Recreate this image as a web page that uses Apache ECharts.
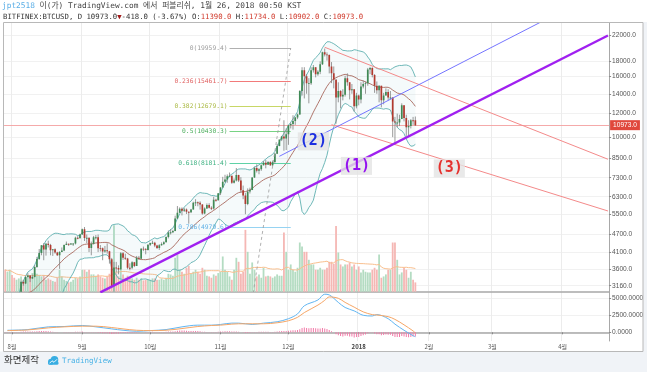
<!DOCTYPE html>
<html><head><meta charset="utf-8">
<script src="https://cdn.jsdelivr.net/npm/echarts@6/dist/echarts.min.js"></script>
<style>html,body{margin:0;padding:0;background:#fff;}#c{width:647px;height:372px;}</style>
</head><body><div id="c"></div>
<script>
// ---------- DATA ----------
// daily candles [open, close, low, high], BITFINEX:BTCUSD
const jul = [[2810,2725,2700,2830],[2725,2757,2680,2780],[2757,2875,2740,2900]];
const aug = [[2875,2718,2650,2930],[2718,2710,2660,2760],[2710,2805,2700,2815],[2805,2895,2780,2900],[2895,3252,2880,3280],[3252,3213,3160,3290],[3213,3378,3200,3400],[3378,3419,3370,3480],[3419,3342,3250,3430],[3342,3381,3330,3440],[3381,3650,3370,3700],[3650,3884,3630,3950],[3884,4073,3860,4200],[4073,4325,4000,4330],[4325,4181,3850,4400],[4181,4376,3990,4400],[4376,4331,4250,4480],[4331,4160,4000,4370],[4160,4193,3980,4200],[4193,4087,4050,4220],[4087,4001,3980,4110],[4001,4100,3600,4130],[4100,4151,4100,4250],[4151,4334,4130,4350],[4334,4371,4330,4450],[4371,4352,4300,4380],[4352,4382,4340,4400],[4382,4382,4300,4390],[4382,4579,4350,4620],[4579,4565,4530,4640],[4565,4703,4560,4730]];
const sep = [[4703,4892,4690,4920],[4892,4578,4470,4980],[4578,4582,4400,4700],[4582,4236,4100,4590],[4236,4376,4000,4450],[4376,4598,4350,4650],[4598,4599,4520,4680],[4599,4228,4100,4700],[4228,4226,4120,4330],[4226,4122,3850,4250],[4122,4161,4080,4300],[4161,4130,4050,4390],[4130,3882,3750,4140],[3882,3154,3100,3920],[3154,3637,2975,3800],[3637,3625,3500,3800],[3625,3582,3450,3700],[3582,4065,3580,4100],[4065,3924,3860,4100],[3924,3905,3860,4050],[3905,3631,3590,3920],[3631,3630,3560,3760],[3630,3792,3590,3820],[3792,3682,3650,3800],[3682,3926,3680,3980],[3926,3892,3860,3980],[3892,4209,3890,4230],[4209,4193,4130,4280],[4193,4164,4030,4230],[4164,4338,4150,4360]];
const oct = [[4338,4403,4300,4410],[4403,4409,4380,4480],[4409,4317,4260,4440],[4317,4229,4200,4340],[4229,4328,4170,4360],[4328,4370,4310,4420],[4370,4426,4330,4460],[4426,4611,4420,4630],[4611,4772,4560,4850],[4772,4781,4700,4900],[4781,4827,4750,4870],[4827,5325,4820,5440],[5325,5564,5300,5860],[5564,5739,5560,5800],[5739,5648,5450,5800],[5648,5711,5600,5780],[5711,5603,5510,5750],[5603,5590,5110,5620],[5590,5708,5550,5730],[5708,6011,5700,6060],[6011,6031,5860,6180],[6031,6008,5850,6070],[6008,5930,5700,6080],[5930,5526,5480,5950],[5526,5750,5500,5800],[5750,5904,5730,5980],[5904,5780,5750,5990],[5780,5753,5680,5850],[5753,6153,5700,6300],[6153,6130,6060,6200],[6130,6468,6110,6470]];
const nov = [[6468,6767,6380,6780],[6767,7078,6760,7350],[7078,7207,7030,7470],[7207,7379,7020,7490],[7379,7407,7330,7600],[7407,7022,6960,7420],[7022,7144,6980,7260],[7144,7459,7090,7870],[7459,7143,7060,7470],[7143,6618,6500,7330],[6618,6357,6180,6870],[6357,5950,5500,6480],[5950,6559,5900,6720],[6559,6635,6460,6760],[6635,7315,6630,7330],[7315,7871,7290,7950],[7871,7708,7600,8100],[7708,7790,7500,7860],[7790,8036,7700,8090],[8036,8200,8030,8300],[8200,8071,7850,8380],[8071,8253,8070,8300],[8253,8038,8000,8300],[8038,8253,8000,8340],[8253,8790,8150,8850],[8790,9330,8770,9500],[9330,9818,9320,9800],[9818,10058,9700,10100],[10058,9888,9000,11400],[9888,10233,9050,10700]];
const dec = [[10233,10975,9420,11000],[10975,11074,10700,11200],[11074,11323,10600,11850],[11323,11657,11000,11700],[11657,11916,11500,12000],[11916,14291,11900,14400],[14291,16800,13800,17200],[16800,16050,13500,17200],[16050,15200,14000,16300],[15200,15200,13000,15800],[15200,16800,15000,17200],[16800,17200,16500,17500],[17200,16300,15900,17200],[16300,16600,16100,16800],[16600,17600,16300,18000],[17600,19300,17500,19400],[19300,19000,18700,19891],[19000,18900,18100,19300],[18900,17300,16400,19000],[17300,16400,15200,17900],[16400,15600,14600,17300],[15600,13600,11100,15700],[13600,14300,13100,15300],[14300,13700,12500,14400],[13700,13900,13300,14500],[13900,15800,13700,16100],[15800,15300,14900,16400],[15300,14400,13400,15300],[14400,14500,14000,15100],[14500,12700,12200,14500],[12700,13800,12500,14100]];
const jan = [[13800,13400,12800,13900],[13400,14800,13000,15300],[14800,15100,14600,15500],[15100,15200,14000,15400],[15200,16900,14900,17100],[16900,17100,16300,17250],[17100,16200,15900,17200],[16200,14900,14100,16300],[14900,14400,14000,15400],[14400,14900,13100,14950],[14900,13300,12600,14900],[13300,13800,12900,14100],[13800,14200,13800,14600],[14200,13600,13300,14500],[13600,13600,13400,14300],[13600,11300,10000,13600],[11300,11200,9400,11700],[11200,11200,10800,12000],[11200,11500,10900,11900],[11500,12800,11500,13000],[12800,11600,11300,12800],[11600,10800,10100,11900],[10800,10900,10000,11400],[10900,11400,10700,11500],[11400,11390,11000,11700],[11390,10973,10902,11734]];

// daily volume (thousand BTC)
const volJul = [33,30,33];
const volAug = [25,21,18,20,23,18,21,24,20,28,28,27,25,23,25,18,20,18,16,15,21,33,23,18,16,14,15,18,21,20,23];
const volSep = [33,33,30,33,26,26,24,26,23,21,20,23,27,33,100,28,23,33,26,21,24,21,20,18,21,18,20,17,18,18];
const volOct = [18,20,20,18,18,20,18,21,27,26,24,51,56,33,30,27,36,39,27,30,33,30,27,36,33,24,23,21,26,24,28];
const volNov = [30,53,33,30,23,18,33,51,45,27,30,93,60,27,44,33,23,26,21,36,23,24,23,21,23,26,24,24,89,60];
const volDec = [33,41,33,30,36,74,68,60,60,48,41,41,33,33,36,33,33,36,45,45,42,99,59,41,38,41,41,44,38,41,33];
const volJan = [38,29,33,30,29,29,33,36,33,56,21,23,26,33,33,74,74,48,26,29,36,33,21,30,18,14];

// MACD histogram (daily)
const histJul = [50,50,50];
const histAug = [50,40,30,40,80,100,110,120,110,100,130,160,180,200,190,180,150,120,90,60,30,10,20,40,50,50,40,60,80,80,90];
const histSep = [100,60,40,-20,-40,-20,-30,-80,-100,-130,-140,-150,-170,-260,-200,-190,-180,-120,-110,-100,-120,-110,-90,-80,-50,-40,0,20,30,50];
const histOct = [60,70,60,40,40,40,50,70,100,110,120,170,220,260,260,250,220,190,180,190,190,180,150,90,70,60,40,30,50,50,80];
const histNov = [100,130,150,160,160,120,100,110,80,20,-30,-100,-90,-80,-20,40,60,70,80,90,80,80,60,60,90,130,170,200,180,180];
const histDec = [220,260,290,310,330,450,650,700,650,600,640,640,580,540,560,620,560,480,320,150,0,-300,-420,-560,-620,-520,-520,-600,-620,-760,-700];
const histJan = [-700,-540,-420,-340,-140,-20,-40,-180,-280,-300,-420,-400,-340,-360,-360,-560,-680,-700,-680,-540,-620,-700,-720,-680,-620,-600];

// MACD and signal lines (read at sample dates)
const macdDates = ['2017-07-30','2017-08-08','2017-08-17','2017-08-24','2017-09-01','2017-09-07','2017-09-14','2017-09-19','2017-09-25','2017-10-01','2017-10-08','2017-10-15','2017-10-22','2017-10-28','2017-11-01','2017-11-06','2017-11-09','2017-11-15','2017-11-20','2017-11-26','2017-12-01','2017-12-05','2017-12-08','2017-12-14','2017-12-17','2017-12-19','2017-12-23','2017-12-26','2017-12-30','2018-01-03','2018-01-07','2018-01-09','2018-01-14','2018-01-17','2018-01-21','2018-01-25','2018-01-26'];
const macdVals = [300,400,800,850,1000,800,500,300,150,250,400,800,1050,1050,1150,1350,1350,1150,1350,1550,2000,2700,3900,4750,5600,5500,4400,3650,3150,2500,2400,2600,2000,1200,300,-500,-650];
const signalVals = [250,350,650,800,900,900,700,500,300,250,300,550,850,1000,1050,1200,1250,1250,1250,1400,1700,2200,2900,4000,4700,5200,5000,4400,3700,3000,2600,2550,2300,1900,1100,200,-100];

// Fibonacci retracement
const fibLevels = ['0','0.236','0.382','0.5','0.618','0.786'];
const fibPrices = [19959.4,15461.7,12679.1,10430.3,8181.4,4979.6];
const fibStart = '2017-11-05', fibEnd = '2017-12-02', fibBase = 901.2;

// drawn trend lines [date, price]
const line1 = [['2017-09-09',3000],['2018-04-21',22000]];
const line2 = [['2017-11-27',8620],['2018-04-21',31900]];
const line3a = [['2017-12-17',20080],['2018-04-21',8425]];
const line3b = [['2017-12-20',11014],['2018-04-21',5640]];
const tagTexts = ['(1)','(2)','(3)'];
const tagDates = ['2017-12-31','2017-12-12','2018-02-10'];
const tagPrices = [8000,9680,7850];
const lastPrice = 10973.0;

// axis tick labels
const priceTicks = [22000,18000,16000,14000,12000,10000,8500,7300,6300,5500,4700,4100,3600,3160];
const macdTicks = [0,2500,5000];

// ---------- BUILD ----------
const cats = [];
for (let t = Date.UTC(2017,6,29), k = 0; k < 267; k++, t += 86400000) cats.push(new Date(t).toISOString().slice(0,10));
const candles = [].concat(jul,aug,sep,oct,nov,dec,jan);
const vols = [].concat(volJul,volAug,volSep,volOct,volNov,volDec,volJan);
const hist = [].concat(histJul,histAug,histSep,histOct,histNov,histDec,histJan);
const closes = candles.map(c => c[1]);

function sma(arr, n){ return arr.map((v,i)=>{const w=arr.slice(Math.max(0,i-n+1),i+1);return w.reduce((a,b)=>a+b,0)/w.length;}); }
const bbM = sma(closes,20);
const bbSd = closes.map((v,i)=>{const w=closes.slice(Math.max(0,i-19),i+1);const m=bbM[i];return Math.sqrt(w.reduce((a,b)=>a+(b-m)*(b-m),0)/w.length);});
const bbU = bbM.map((m,i)=>m+2*bbSd[i]);
const bbL = bbM.map((m,i)=>m-2*bbSd[i]);
const volMA = sma(vols,20);

const isMonthStart = (idx, v) => (v || cats[idx]).slice(8) === '01';
const monthLabel = v => { const p = v.split('-'); return p[1]==='01' ? '{b|'+p[0]+'}' : (+p[1])+'월'; };

const mono = 'DejaVu Sans Mono, Noto Sans CJK KR, monospace';
const sans = 'Liberation Sans, Arial, sans-serif';
const GL = 4.07, GR = 37.9;

const fibLineColors = ['#b0b0b0','#f27a7a','#c8d766','#78d384','#5fd2a6','#96d3f2'];
const fibTextColors = ['#9a9a9a','#e06060','#a9b840','#4cae5c','#3cb080','#5db0e6'];
const tagColors = ['#9412f0','#1c2fe0','#e5312e'];

const chart = echarts.init(document.getElementById('c'), null, {renderer:'canvas'});
const lineSeries = (data, color, width, type) => ({
  type:'line', xAxisIndex:0, yAxisIndex:0, data, showSymbol:false, symbol:'none', clip:true, silent:true,
  lineStyle:{color, width, type: type||'solid'}, z:6, animation:false
});

chart.setOption({
  animation:false,
  backgroundColor:'#ffffff',
  grid:[
    {left:GL, right:GR, top:22.5, height:269.2, containLabel:false},
    {left:GL, right:GR, top:291.7, height:49.3, containLabel:false}
  ],
  xAxis:[
    {type:'category', gridIndex:0, data:cats, boundaryGap:true,
     axisLine:{show:true, lineStyle:{color:'#a8a8a8', width:1.5}}, axisTick:{show:false}, axisLabel:{show:false},
     splitLine:{show:true, interval:isMonthStart, lineStyle:{color:'#ececec', width:1}}},
    {type:'category', gridIndex:1, data:cats, boundaryGap:true,
     axisLine:{show:true, lineStyle:{color:'#a8a8a8', width:1.5}},
     axisTick:{show:true, interval:isMonthStart, alignWithLabel:true, length:2, lineStyle:{color:'#888'}},
     axisLabel:{show:true, interval:isMonthStart, formatter:monthLabel, fontSize:6, color:'#555', margin:3, fontFamily:'Noto Sans CJK KR, sans-serif',
       rich:{b:{fontWeight:'bold', fontSize:6, color:'#444'}}},
     splitLine:{show:true, interval:isMonthStart, lineStyle:{color:'#ececec', width:1}}}
  ],
  yAxis:[
    {type:'log', gridIndex:0, position:'right', min:3016, max:24330, logBase:10,
     axisLine:{show:true, lineStyle:{color:'#a8a8a8'}},
     axisTick:{show:true, length:2, customValues:priceTicks, lineStyle:{color:'#888'}},
     axisLabel:{show:true, customValues:priceTicks, formatter:v=>Number(v).toFixed(1), fontSize:6.6, color:'#555', margin:3, fontFamily:sans},
     splitLine:{show:true, lineStyle:{color:'#f1f1f1'}}, minorSplitLine:{show:false}},
    {type:'value', gridIndex:0, min:0, max:405, show:false, splitLine:{show:false}},
    {type:'value', gridIndex:1, position:'right', min:-1280, max:5970,
     axisLine:{show:true, lineStyle:{color:'#a8a8a8'}},
     axisTick:{show:true, length:2, customValues:macdTicks, lineStyle:{color:'#888'}},
     axisLabel:{show:true, customValues:macdTicks, formatter:v=>Number(v).toFixed(4), fontSize:6.6, color:'#555', margin:3, fontFamily:sans},
     splitLine:{show:true, lineStyle:{color:'#f1f1f1'}}}
  ],
  series:[
    {type:'bar', xAxisIndex:0, yAxisIndex:1, barWidth:1.8, z:1, silent:true,
     data: vols.map((v,i)=>({value:v, itemStyle:{color: candles[i][1]>=candles[i][0] ? '#b4dcc2' : '#f5b7b4'}}))},
    {type:'line', xAxisIndex:0, yAxisIndex:1, data:volMA, showSymbol:false, symbol:'none', z:2, silent:true,
     lineStyle:{color:'#f9bf8e', width:1}},
    {type:'line', xAxisIndex:0, yAxisIndex:0, data:bbL, stack:'bb', showSymbol:false, symbol:'none', z:3, silent:true, clip:true,
     lineStyle:{color:'#5fb0b0', width:0.9}},
    {type:'line', xAxisIndex:0, yAxisIndex:0, data:bbU.map((u,i)=>u-bbL[i]), stack:'bb', showSymbol:false, symbol:'none', z:3, silent:true, clip:true,
     lineStyle:{color:'#5fb0b0', width:0.9}, areaStyle:{color:'rgba(120,190,195,0.10)'}},
    {type:'line', xAxisIndex:0, yAxisIndex:0, data:bbM, showSymbol:false, symbol:'none', z:4, silent:true, clip:true,
     lineStyle:{color:'#a8685c', width:0.9}},
    {type:'custom', xAxisIndex:0, yAxisIndex:0, z:5, clip:true, silent:true,
     data: candles.map((c,i)=>[i, c[0], c[1], c[2], c[3]]),
     encode:{x:0, y:[1,2,3,4]},
     renderItem:(params, api)=>{
       const i = api.value(0), o = api.value(1), c = api.value(2), l = api.value(3), h = api.value(4);
       const po = api.coord([i,o]), pc = api.coord([i,c]), pl = api.coord([i,l]), ph = api.coord([i,h]);
       const up = c >= o, w = 1.7;
       const top = Math.min(po[1], pc[1]), hh = Math.max(Math.abs(po[1]-pc[1]), 0.9);
       return {type:'group', children:[
         {type:'line', shape:{x1:po[0], y1:ph[1], x2:po[0], y2:pl[1]}, style:{stroke:'#808080', lineWidth:0.8}},
         {type:'rect', shape:{x:po[0]-w/2, y:top, width:w, height:hh}, style:{fill: up ? '#3f8a55' : '#b23a2f'}}
       ]};
     }},
    lineSeries([[fibStart, fibBase],[fibEnd, fibPrices[0]]], '#9a9a9a', 0.8, [3,3]),
    {type:'line', xAxisIndex:0, yAxisIndex:0, data:[], silent:true, z:6,
     markLine:{silent:true, symbol:['none','none'], animation:false,
       data: fibPrices.map((p,k)=>[
         {coord:[fibStart, p], lineStyle:{color:fibLineColors[k], width:1, type:'solid'},
          label:{show:true, position:'start', distance:2, formatter: fibLevels[k]+'('+p.toFixed(1)+')', color:fibTextColors[k], fontSize:6.3, fontFamily:mono}},
         {coord:[fibEnd, p]}
       ])}},
    {type:'line', xAxisIndex:0, yAxisIndex:0, data:[], silent:true, z:6,
     markLine:{silent:true, symbol:['none','none'], animation:false,
       data:[{yAxis:lastPrice, lineStyle:{color:'#f4a0a0', width:0.9, type:'solid'},
         label:{show:true, position:'end', distance:1, formatter: lastPrice.toFixed(1), color:'#fff', backgroundColor:'#e0483c', padding:[2,3,1,3], fontSize:6.6, fontFamily:sans}}]}},
    lineSeries(line3a, '#f48a8a', 1),
    lineSeries(line3b, '#f48a8a', 1),
    lineSeries(line2, '#7575ff', 1),
    lineSeries(line1, '#a020f0', 2.4),
    {type:'custom', xAxisIndex:0, yAxisIndex:0, z:9, clip:false, silent:true,
     data: tagDates.map((d,k)=>[d, tagPrices[k]]),
     encode:{x:0, y:1},
     renderItem:(params, api)=>{
       const p = api.coord([api.value(0), api.value(1)]);
       const k = params.dataIndex;
       return {type:'text', x:p[0], y:p[1], style:{text:tagTexts[k], fill:tagColors[k],
         font:'bold 15px DejaVu Sans Mono', align:'center', verticalAlign:'middle',
         backgroundColor:'rgba(228,228,228,0.8)', padding:[2,2,1,2]}};
     }},
    {type:'bar', xAxisIndex:1, yAxisIndex:2, data:hist, barWidth:1, itemStyle:{color:'#f27aa8'}, silent:true, z:2},
    {type:'line', xAxisIndex:1, yAxisIndex:2, data: macdDates.map((d,k)=>[d, macdVals[k]]), smooth:0.35, showSymbol:false, symbol:'none', silent:true, z:3,
     lineStyle:{color:'#62b6f2', width:1}},
    {type:'line', xAxisIndex:1, yAxisIndex:2, data: macdDates.map((d,k)=>[d, signalVals[k]]), smooth:0.35, showSymbol:false, symbol:'none', silent:true, z:3,
     lineStyle:{color:'#f6a666', width:1}}
  ],
  graphic:[
    {type:'rect', silent:true, z:-1, shape:{x:0, y:351.5, width:647, height:21}, style:{fill:'#f0f3f7'}},
    {type:'rect', silent:true, z:-1, shape:{x:643, y:22, width:4, height:330}, style:{fill:'#f0f3f7'}},
    {type:'rect', silent:true, z:100, shape:{x:3.5, y:22.5, width:639.5, height:329}, style:{fill:'none', stroke:'#b8b8b8', lineWidth:1}},
    {type:'text', silent:true, left:2, top:2.5, style:{
      text:'{u|jpt2518} 이(가) TradingView.com 에서 퍼블리쉬, 1월 26, 2018 00:50 KST',
      font:'7.8px '+mono, fill:'#444', rich:{u:{fill:'#5aaee6', font:'7.8px '+mono}}}},
    {type:'text', silent:true, left:3, top:13, style:{
      text:'BITFINEX:BTCUSD, D 10973.0{r|▼}-418.0 (-3.67%) O:{v|11390.0} H:{v|11734.0} L:{v|10902.0} C:{v|10973.0}',
      font:'7.3px '+mono, fill:'#333', rich:{r:{fill:'#a01818', font:'7.3px '+mono}, v:{fill:'#d0392b', font:'7.3px '+mono}}}},
    {type:'text', silent:true, left:4, top:355, style:{text:'화면제작', font:'9.5px Noto Sans CJK KR', fill:'#333'}},
    {type:'group', left:47, top:356, silent:true, children:[
      {type:'circle', shape:{cx:4, cy:6, r:3}, style:{fill:'#38ade2'}},
      {type:'circle', shape:{cx:7.5, cy:4, r:3.8}, style:{fill:'#38ade2'}},
      {type:'rect', shape:{x:1, y:5.5, width:10.5, height:3.5, r:1.5}, style:{fill:'#38ade2'}},
      {type:'polyline', shape:{points:[[2.5,7.5],[5,5],[7,6.5],[10,3.5]]}, style:{stroke:'#fff', lineWidth:0.9, fill:'none'}}
    ]},
    {type:'text', silent:true, left:62, top:357, style:{text:'TradingView', font:'7.5px '+mono, fill:'#4ab3e6'}}
  ]
});
</script>
</body></html>
